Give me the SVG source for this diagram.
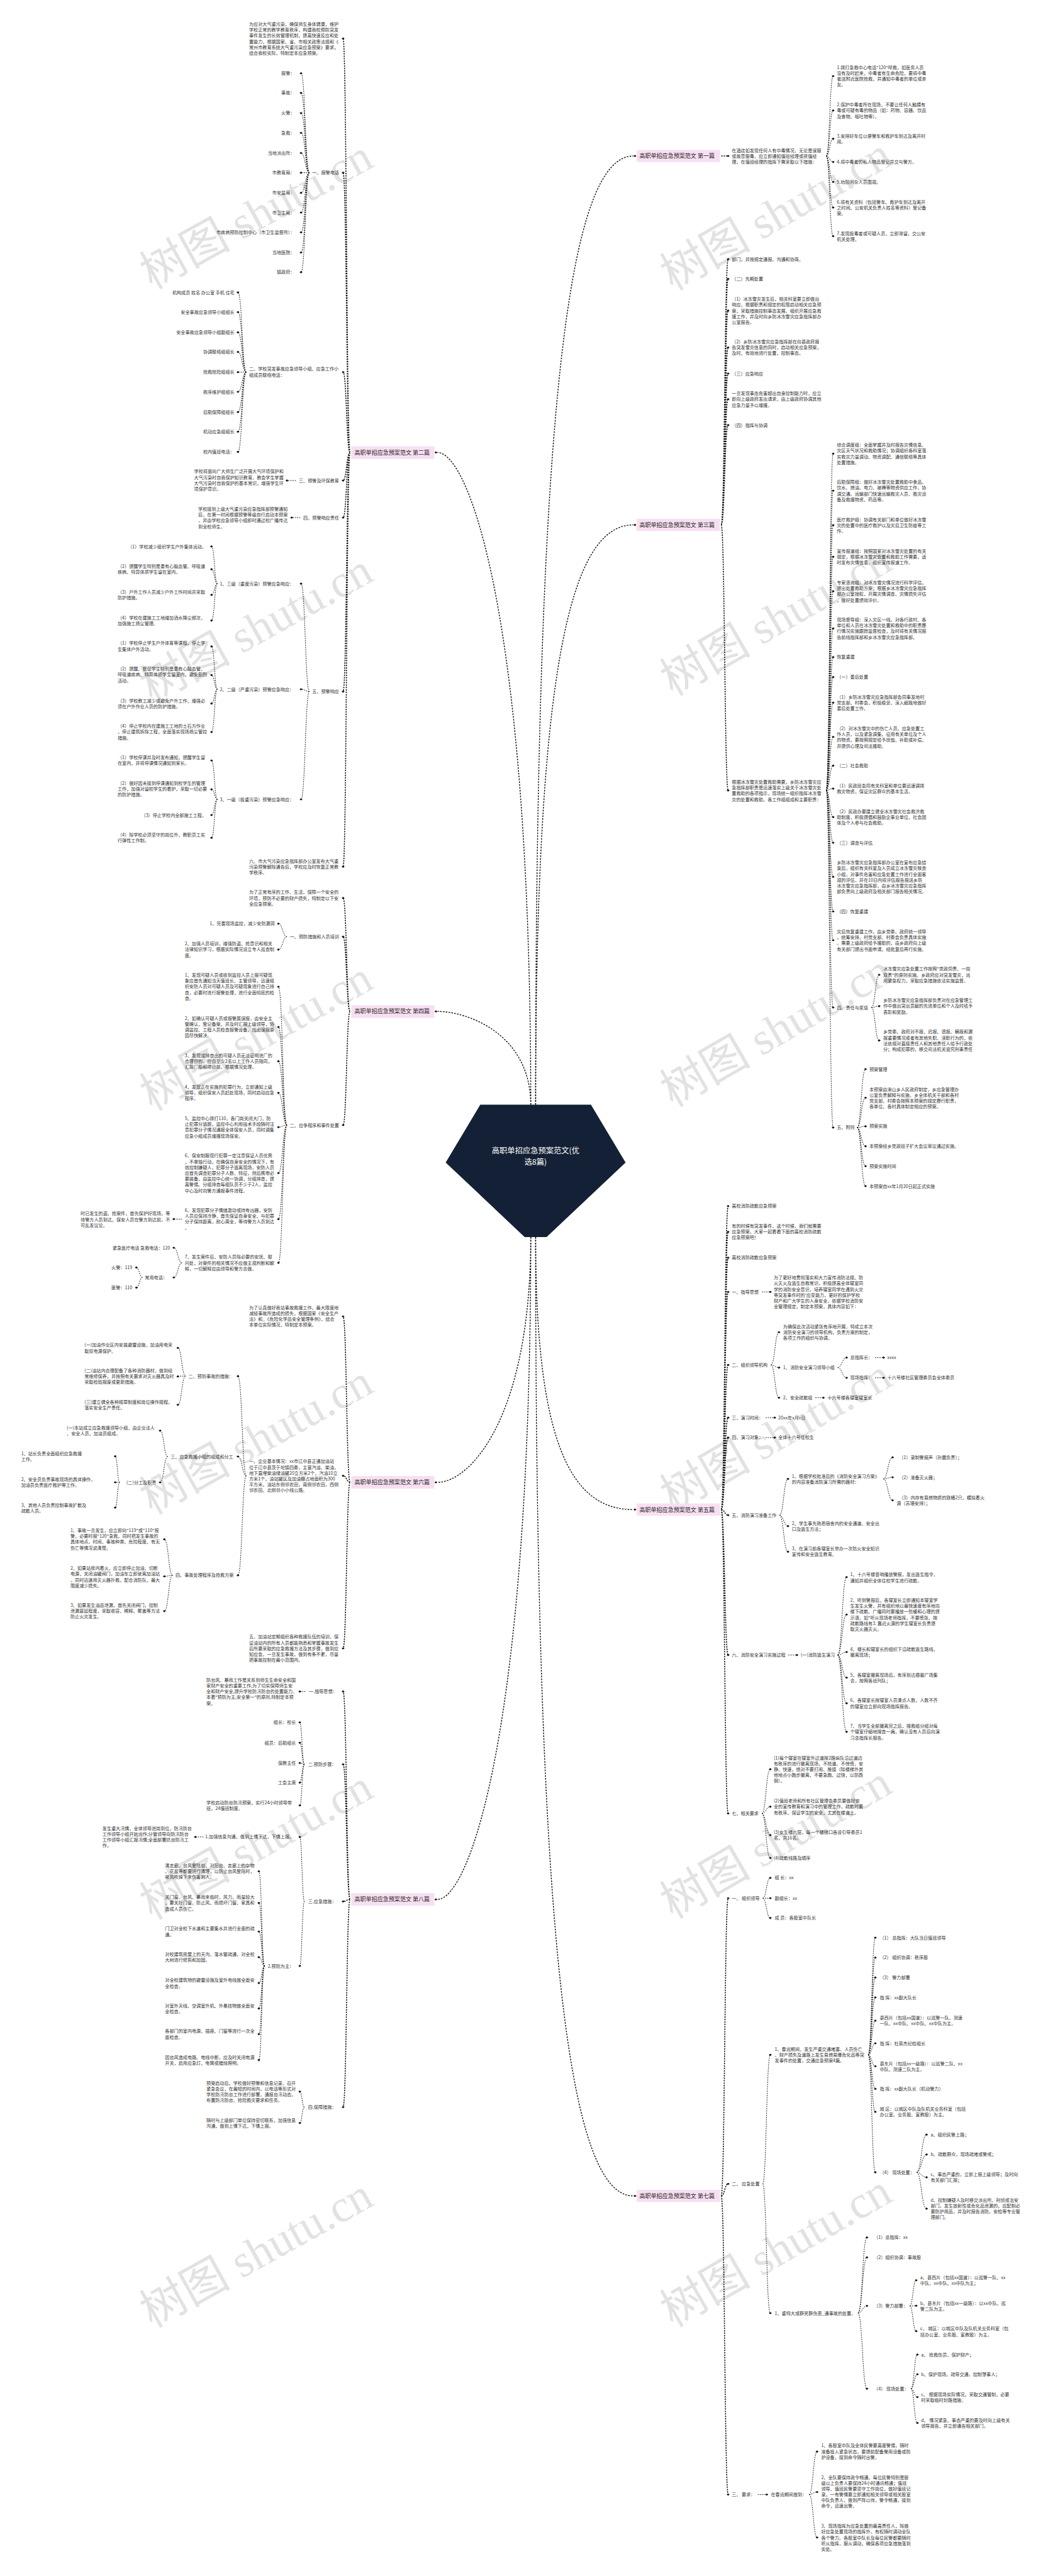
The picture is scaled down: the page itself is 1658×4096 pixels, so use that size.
<svg xmlns="http://www.w3.org/2000/svg" xmlns:xlink="http://www.w3.org/1999/xlink" width="1658" height="4096" viewBox="0 0 1658 4096">
<defs>
<style>
.t{font-family:"Noto Sans CJK SC","Liberation Sans",sans-serif;font-size:11px;fill:#333}
.e{text-anchor:end}
.lb{font-family:"Noto Sans CJK SC","Liberation Sans",sans-serif;font-size:14px;fill:#222}
.bx{fill:#f7dff1}
.c{fill:none;stroke:#111;stroke-width:1.4;stroke-dasharray:3 2.4}
.k{fill:none;stroke:#111;stroke-width:2.4;stroke-dasharray:3.5 2.5}
.m{fill:none;stroke:#111;stroke-width:2.2;stroke-dasharray:4 3}
.wm{font-family:"Liberation Serif","Noto Sans CJK SC",serif;font-size:112px;fill:#d9d9d9;text-anchor:middle;opacity:.75}
</style>
<path id="d" d="M-3.6 0L0-2.8L3.6 0L0 2.8Z" fill="#111"/>
</defs>
<rect width="1658" height="4096" fill="#fff"/>
<g transform="scale(0.647)">
<g id="watermarks">
<text class="wm" transform="translate(648,560) rotate(-29)">树图 shutu.cn</text>
<text class="wm" transform="translate(648,1577) rotate(-29)">树图 shutu.cn</text>
<text class="wm" transform="translate(648,2579) rotate(-29)">树图 shutu.cn</text>
<text class="wm" transform="translate(648,3571) rotate(-29)">树图 shutu.cn</text>
<text class="wm" transform="translate(648,4567) rotate(-29)">树图 shutu.cn</text>
<text class="wm" transform="translate(648,5570) rotate(-29)">树图 shutu.cn</text>
<text class="wm" transform="translate(1925,559) rotate(-30)">树图 shutu.cn</text>
<text class="wm" transform="translate(1925,1555) rotate(-30)">树图 shutu.cn</text>
<text class="wm" transform="translate(1925,2565) rotate(-30)">树图 shutu.cn</text>
<text class="wm" transform="translate(1925,3560) rotate(-30)">树图 shutu.cn</text>
<text class="wm" transform="translate(1925,4560) rotate(-30)">树图 shutu.cn</text>
<text class="wm" transform="translate(1925,5564) rotate(-30)">树图 shutu.cn</text>
</g>
<g id="connectors">
<path class="m" d="M1316,2715C1316,966 1401,383.4 1556,383.4"/>
<path class="m" d="M1316,2715C1316,1646 1401,1290 1556,1290"/>
<path class="m" d="M1316,3040C1316,3542 1401,3710 1556,3710"/>
<path class="m" d="M1316,3040C1316,4808 1401,5396.7 1556,5396.7"/>
<path class="m" d="M1304,2715C1304,1513 1151,1112 1075,1112"/>
<path class="m" d="M1304,2715C1304,2543 1151,2485.7 1075,2485.7"/>
<path class="m" d="M1304,3040C1304,3492 1151,3643 1075,3643"/>
<path class="m" d="M1304,3040C1304,4261 1151,4668 1075,4668"/>
<path class="k" d="M860,1112C851.5,1112 851.5,94.6 843,94.6M860,1112C851.5,1112 851.5,424.5 843,424.5M860,1112C851.5,1112 851.5,914.6 843,914.6M860,1112C851.5,1112 851.5,1181 843,1181M860,1112C851.5,1112 851.5,1272 843,1272M860,1112C851.5,1112 851.5,1699.5 843,1699.5M860,1112C851.5,1112 851.5,2130 843,2130"/>
<path class="c" d="M760,424.5C750,424.5 750,180 739.6,180M760,424.5C750,424.5 750,228.5 739.6,228.5M760,424.5C750,424.5 750,278 739.6,278M760,424.5C750,424.5 750,326.5 739.6,326.5M760,424.5C750,424.5 750,376 739.6,376M760,424.5H739.6M760,424.5C750,424.5 750,474 739.6,474M760,424.5C750,424.5 750,522.5 739.6,522.5M760,424.5C750,424.5 750,571 739.6,571M760,424.5C750,424.5 750,620.5 739.6,620.5M760,424.5C750,424.5 750,669 739.6,669"/>
<path class="c" d="M605,914.6C595,914.6 595,718.6 584.6,718.6M605,914.6C595,914.6 595,767 584.6,767M605,914.6C595,914.6 595,816.6 584.6,816.6M605,914.6C595,914.6 595,865 584.6,865M605,914.6H584.6M605,914.6C595,914.6 595,963 584.6,963M605,914.6C595,914.6 595,1012.6 584.6,1012.6M605,914.6C595,914.6 595,1061 584.6,1061M605,914.6C595,914.6 595,1110.7 584.6,1110.7"/>
<path class="c" d="M727,1181H705M738,1272H716.6"/>
<path class="c" d="M760,1699.5C750,1699.5 750,1434.5 739.6,1434.5M760,1699.5C750,1699.5 750,1694 739.6,1694M760,1699.5C750,1699.5 750,1964.5 739.6,1964.5"/>
<path class="c" d="M534,1434.5C527,1434.5 527,1343 519.7,1343M534,1434.5C527,1434.5 527,1399 519.7,1399M534,1434.5C527,1434.5 527,1462 519.7,1462M534,1434.5C527,1434.5 527,1525 519.7,1525"/>
<path class="c" d="M534,1694C527,1694 527,1588.6 519.7,1588.6M534,1694C527,1694 527,1659 519.7,1659M534,1694C527,1694 527,1729 519.7,1729M534,1694C527,1694 527,1799 519.7,1799"/>
<path class="c" d="M534,1964.5C527,1964.5 527,1869 519.7,1869M534,1964.5C527,1964.5 527,1940 519.7,1940M534,1964.5C527,1964.5 527,2003 519.7,2003M534,1964.5C527,1964.5 527,2059 519.7,2059"/>
<path class="k" d="M860,2485.7C851.5,2485.7 851.5,2207 843,2207M860,2485.7C851.5,2485.7 851.5,2302 843,2302M860,2485.7C851.5,2485.7 851.5,2765 843,2765"/>
<path class="c" d="M705,2302C694.5,2302 694.5,2270 684,2270M705,2302C694.5,2302 694.5,2333.6 684,2333.6"/>
<path class="c" d="M705,2765C694.5,2765 694.5,2425 684,2425M705,2765C694.5,2765 694.5,2524 684,2524M705,2765C694.5,2765 694.5,2608 684,2608M705,2765C694.5,2765 694.5,2686 684,2686M705,2765C694.5,2765 694.5,2770 684,2770M705,2765C694.5,2765 694.5,2883 684,2883M705,2765C694.5,2765 694.5,2996 684,2996M705,2765C694.5,2765 694.5,3103.6 684,3103.6"/>
<path class="c" d="M447,2996H427M447,3103.6C437,3103.6 437,3066.4 427,3066.4M447,3103.6C437,3103.6 437,3139.4 427,3139.4M350,3139.4C342.5,3139.4 342.5,3115 335,3115M350,3139.4C342.5,3139.4 342.5,3164.5 335,3164.5"/>
<path class="k" d="M860,3643C851.5,3643 851.5,3235.4 843,3235.4M860,3643C851.5,3643 851.5,3627 843,3627M860,3643C851.5,3643 851.5,4051 843,4051"/>
<path class="c" d="M605,3627C595,3627 595,3382 584.6,3382M605,3627C595,3627 595,3579.5 584.6,3579.5M605,3627C595,3627 595,3871.5 584.6,3871.5"/>
<path class="c" d="M456,3382C446.5,3382 446.5,3312.5 437,3312.5M456,3382H437M456,3382C446.5,3382 446.5,3452.4 437,3452.4"/>
<path class="c" d="M412,3579.5C402.7,3579.5 402.7,3516 393.4,3516M412,3579.5C402.7,3579.5 402.7,3643 393.4,3643"/>
<path class="c" d="M294,3643C288.5,3643 288.5,3579 283,3579M294,3643H283M294,3643C288.5,3643 288.5,3705 283,3705"/>
<path class="c" d="M424,3871.5C414,3871.5 414,3783 403.8,3783M424,3871.5C414,3871.5 414,3874 403.8,3874M424,3871.5C414,3871.5 414,3959.4 403.8,3959.4"/>
<path class="k" d="M860,4668C851.5,4668 851.5,4157 843,4157M860,4668C851.5,4668 851.5,4336 843,4336M860,4668C851.5,4668 851.5,4673 843,4673M860,4668C851.5,4668 851.5,5178.3 843,5178.3"/>
<path class="c" d="M750,4157H736.7"/>
<path class="c" d="M748,4336C742,4336 742,4233 736.7,4233M748,4336C742,4336 742,4283 736.7,4283M748,4336C742,4336 742,4332.6 736.7,4332.6M748,4336C742,4336 742,4381 736.7,4381M748,4336C742,4336 742,4437 736.7,4437"/>
<path class="c" d="M748,4673C742,4673 742,4514.5 736.7,4514.5M748,4673C742,4673 742,4831.5 736.7,4831.5M500,4514.5H480"/>
<path class="c" d="M650,4831.5C643,4831.5 643,4599 636,4599M650,4831.5C643,4831.5 643,4676.7 636,4676.7M650,4831.5C643,4831.5 643,4747 636,4747M650,4831.5C643,4831.5 643,4810 636,4810M650,4831.5C643,4831.5 643,4873.4 636,4873.4M650,4831.5C643,4831.5 643,4936 636,4936M650,4831.5C643,4831.5 643,4999 636,4999M650,4831.5C643,4831.5 643,5062.7 636,5062.7"/>
<path class="c" d="M748,5178.3C742,5178.3 742,5140.4 736.7,5140.4M748,5178.3C742,5178.3 742,5217.5 736.7,5217.5"/>
<path class="k" d="M1772,383.4H1789"/>
<path class="c" d="M2030,383.4C2038.5,383.4 2038.5,187 2047,187M2030,383.4C2038.5,383.4 2038.5,271.5 2047,271.5M2030,383.4C2038.5,383.4 2038.5,341 2047,341M2030,383.4C2038.5,383.4 2038.5,398 2047,398M2030,383.4C2038.5,383.4 2038.5,447 2047,447M2030,383.4C2038.5,383.4 2038.5,510 2047,510M2030,383.4C2038.5,383.4 2038.5,580.4 2047,580.4"/>
<path class="k" d="M1772,1290C1780.5,1290 1780.5,636.7 1789,636.7M1772,1290C1780.5,1290 1780.5,685.6 1789,685.6M1772,1290C1780.5,1290 1780.5,763.4 1789,763.4M1772,1290C1780.5,1290 1780.5,854 1789,854M1772,1290C1780.5,1290 1780.5,918 1789,918M1772,1290C1780.5,1290 1780.5,981 1789,981M1772,1290C1780.5,1290 1780.5,1044.7 1789,1044.7M1772,1290C1780.5,1290 1780.5,1942.6 1789,1942.6"/>
<path class="c" d="M2030,1942.6C2038.5,1942.6 2038.5,1115 2047,1115M2030,1942.6C2038.5,1942.6 2038.5,1206 2047,1206M2030,1942.6C2038.5,1942.6 2038.5,1290.7 2047,1290.7M2030,1942.6C2038.5,1942.6 2038.5,1368.4 2047,1368.4M2030,1942.6C2038.5,1942.6 2038.5,1453 2047,1453M2030,1942.6C2038.5,1942.6 2038.5,1544.6 2047,1544.6M2030,1942.6C2038.5,1942.6 2038.5,1615 2047,1615M2030,1942.6C2038.5,1942.6 2038.5,1664 2047,1664M2030,1942.6C2038.5,1942.6 2038.5,1727 2047,1727M2030,1942.6C2038.5,1942.6 2038.5,1811 2047,1811M2030,1942.6C2038.5,1942.6 2038.5,1881.6 2047,1881.6M2030,1942.6C2038.5,1942.6 2038.5,1938 2047,1938M2030,1942.6C2038.5,1942.6 2038.5,2008 2047,2008M2030,1942.6C2038.5,1942.6 2038.5,2071 2047,2071M2030,1942.6C2038.5,1942.6 2038.5,2155 2047,2155M2030,1942.6C2038.5,1942.6 2038.5,2240 2047,2240M2030,1942.6C2038.5,1942.6 2038.5,2310.6 2047,2310.6M2030,1942.6C2038.5,1942.6 2038.5,2476 2047,2476M2030,1942.6C2038.5,1942.6 2038.5,2771 2047,2771"/>
<path class="c" d="M2141,2476C2150.5,2476 2150.5,2395.6 2160,2395.6M2141,2476C2150.5,2476 2150.5,2472.7 2160,2472.7M2141,2476C2150.5,2476 2150.5,2557 2160,2557"/>
<path class="c" d="M2106,2771C2116,2771 2116,2627.5 2126.6,2627.5M2106,2771C2116,2771 2116,2697.8 2126.6,2697.8M2106,2771C2116,2771 2116,2768 2126.6,2768M2106,2771C2116,2771 2116,2817 2126.6,2817M2106,2771C2116,2771 2116,2866 2126.6,2866M2106,2771C2116,2771 2116,2915 2126.6,2915"/>
<path class="k" d="M1772,3710C1780.5,3710 1780.5,2964 1789,2964M1772,3710C1780.5,3710 1780.5,3027.5 1789,3027.5M1772,3710C1780.5,3710 1780.5,3091 1789,3091M1772,3710C1780.5,3710 1780.5,3175 1789,3175M1772,3710C1780.5,3710 1780.5,3354.5 1789,3354.5M1772,3710C1780.5,3710 1780.5,3484 1789,3484M1772,3710C1780.5,3710 1780.5,3533 1789,3533M1772,3710C1780.5,3710 1780.5,3723.7 1789,3723.7M1772,3710C1780.5,3710 1780.5,4067.4 1789,4067.4M1772,3710C1780.5,3710 1780.5,4456.8 1789,4456.8"/>
<path class="c" d="M1872,3175H1892.6M2150,3336.4H2171M2150,3386H2171M2003,3435H2023M1881,3484H1903.5M1881,3533H1903.5M1937,4067.4H1958"/>
<path class="c" d="M1894,3354.5C1904,3354.5 1904,3274 1914,3274M1894,3354.5C1904,3354.5 1904,3361 1914,3361M1894,3354.5C1904,3354.5 1904,3435 1914,3435M2058,3361C2069,3361 2069,3336.4 2080,3336.4M2058,3361C2069,3361 2069,3386 2080,3386"/>
<path class="c" d="M1915,3723.7C1925.5,3723.7 1925.5,3634.6 1936,3634.6M1915,3723.7C1925.5,3723.7 1925.5,3750.5 1936,3750.5M1915,3723.7C1925.5,3723.7 1925.5,3813.5 1936,3813.5M2170,3634.6C2181.5,3634.6 2181.5,3581.7 2193,3581.7M2170,3634.6C2181.5,3634.6 2181.5,3630.6 2193,3630.6M2170,3634.6C2181.5,3634.6 2181.5,3687 2193,3687"/>
<path class="c" d="M2058,4067.4C2069,4067.4 2069,3876 2080,3876M2058,4067.4C2069,4067.4 2069,3968 2080,3968M2058,4067.4C2069,4067.4 2069,4060 2080,4060M2058,4067.4C2069,4067.4 2069,4123 2080,4123M2058,4067.4C2069,4067.4 2069,4186 2080,4186M2058,4067.4C2069,4067.4 2069,4256 2080,4256"/>
<path class="c" d="M1872,4456.8C1882,4456.8 1882,4348 1892.6,4348M1872,4456.8C1882,4456.8 1882,4440 1892.6,4440M1872,4456.8C1882,4456.8 1882,4510 1892.6,4510M1872,4456.8C1882,4456.8 1882,4566 1892.6,4566"/>
<path class="k" d="M1772,5396.7C1780.5,5396.7 1780.5,4665 1789,4665M1772,5396.7C1780.5,5396.7 1780.5,5367 1789,5367M1772,5396.7C1780.5,5396.7 1780.5,6130.6 1789,6130.6"/>
<path class="c" d="M1874,4665C1883,4665 1883,4615 1892.6,4615M1874,4665H1892.6M1874,4665C1883,4665 1883,4713.5 1892.6,4713.5M1874,5367C1883,5367 1883,5050 1892.6,5050M1874,5367C1883,5367 1883,5684.6 1892.6,5684.6"/>
<path class="c" d="M2133,5050C2142,5050 2142,4762 2150.6,4762M2133,5050C2142,5050 2142,4811 2150.6,4811M2133,5050C2142,5050 2142,4860 2150.6,4860M2133,5050C2142,5050 2142,4909 2150.6,4909M2133,5050C2142,5050 2142,4966 2150.6,4966M2133,5050C2142,5050 2142,5021.6 2150.6,5021.6M2133,5050C2142,5050 2142,5078 2150.6,5078M2133,5050C2142,5050 2142,5133.5 2150.6,5133.5M2133,5050C2142,5050 2142,5190 2150.6,5190M2133,5050C2142,5050 2142,5338.6 2150.6,5338.6"/>
<path class="c" d="M2252,5338.6C2264,5338.6 2264,5246 2276.5,5246M2252,5338.6C2264,5338.6 2264,5295 2276.5,5295M2252,5338.6C2264,5338.6 2264,5351 2276.5,5351M2252,5338.6C2264,5338.6 2264,5428 2276.5,5428"/>
<path class="c" d="M2108,5684.6C2119,5684.6 2119,5498.7 2130,5498.7M2108,5684.6C2119,5684.6 2119,5547.8 2130,5547.8M2108,5684.6C2119,5684.6 2119,5667 2130,5667M2108,5684.6C2119,5684.6 2119,5870.6 2130,5870.6"/>
<path class="c" d="M2235,5667C2243,5667 2243,5604 2251,5604M2235,5667H2251M2235,5667C2243,5667 2243,5729 2251,5729M2238,5870.6C2246,5870.6 2246,5786.6 2254,5786.6M2238,5870.6C2246,5870.6 2246,5835 2254,5835M2238,5870.6C2246,5870.6 2246,5891 2254,5891M2238,5870.6C2246,5870.6 2246,5954.6 2254,5954.6"/>
<path class="c" d="M1862,6130.6H1884M1988,6130.6C1998,6130.6 1998,6025 2007.5,6025M1988,6130.6C1998,6130.6 1998,6124.4 2007.5,6124.4M1988,6130.6C1998,6130.6 1998,6236 2007.5,6236"/>
</g>
<g id="root">
<polygon points="1180,2715 1452,2715 1537,2857 1343,3040 1289,3040 1095,2857" fill="#142035"/>
<text x="1316" y="2835" font-family="Noto Sans CJK SC,Liberation Sans,sans-serif" font-size="19" fill="#fff" text-anchor="middle">高职单招应急预案范文(优</text>
<text x="1316" y="2862" font-family="Noto Sans CJK SC,Liberation Sans,sans-serif" font-size="19" fill="#fff" text-anchor="middle">选8篇)</text>
</g>
<g id="b2"><rect class="bx" x="863" y="1097" width="204" height="31"/><text class="lb" x="871" y="1117">高职单招应急预案范文 第二篇</text><use href="#d" x="1071" y="1112"/></g>
<g id="b4"><rect class="bx" x="863" y="2470.5" width="204" height="31"/><text class="lb" x="871" y="2490.7">高职单招应急预案范文 第四篇</text><use href="#d" x="1071" y="2485.7"/></g>
<g id="b6"><rect class="bx" x="863" y="3627.5" width="204" height="31"/><text class="lb" x="871" y="3648">高职单招应急预案范文 第六篇</text><use href="#d" x="1071" y="3643"/></g>
<g id="b8"><rect class="bx" x="863" y="4652.5" width="204" height="31"/><text class="lb" x="871" y="4673">高职单招应急预案范文 第八篇</text><use href="#d" x="1071" y="4668"/></g>
<g id="b1"><rect class="bx" x="1564" y="368.4" width="205" height="30"/><text class="lb" x="1571" y="388.4">高职单招应急预案范文 第一篇</text><use href="#d" x="1560" y="383.4"/></g>
<g id="b3"><rect class="bx" x="1564" y="1275" width="205" height="30"/><text class="lb" x="1571" y="1295">高职单招应急预案范文 第三篇</text><use href="#d" x="1560" y="1290"/></g>
<g id="b5"><rect class="bx" x="1564" y="3695" width="205" height="30"/><text class="lb" x="1571" y="3715">高职单招应急预案范文 第五篇</text><use href="#d" x="1560" y="3710"/></g>
<g id="b7"><rect class="bx" x="1564" y="5381.7" width="205" height="30"/><text class="lb" x="1571" y="5401.7">高职单招应急预案范文 第七篇</text><use href="#d" x="1560" y="5396.7"/></g>

<g id="p2">
<text class="t" x="612" y="63.5">为应对大气重污染，确保师生身体健康，维护<tspan x="612" dy="14.2">学校正常的教学教育秩序，构建我校预防突发</tspan><tspan x="612" dy="14.2">事件发生的长效管理机制，提高快速反应和处</tspan><tspan x="612" dy="14.2">置能力，根据国家、省、市相关政策法规和《</tspan><tspan x="612" dy="14.2">常州市教育系统大气重污染应急预案》要求，</tspan><tspan x="612" dy="14.2">结合我校实际，特制定本应急预案。</tspan></text><use href="#d" x="843" y="94.6"/>
<text class="t e" x="833" y="428.5">一、报警电话</text><use href="#d" x="843" y="424.5"/>
<text class="t e" x="724" y="184">报警：</text><use href="#d" x="739.6" y="180"/>
<text class="t e" x="724" y="232.5">事故：</text><use href="#d" x="739.6" y="228.5"/>
<text class="t e" x="724" y="282">火警：</text><use href="#d" x="739.6" y="278"/>
<text class="t e" x="724" y="330.5">急救：</text><use href="#d" x="739.6" y="326.5"/>
<text class="t e" x="724" y="380">当地派出所：</text><use href="#d" x="739.6" y="376"/>
<text class="t e" x="724" y="428.5">市教育局：</text><use href="#d" x="739.6" y="424.5"/>
<text class="t e" x="724" y="478">市安监局：</text><use href="#d" x="739.6" y="474"/>
<text class="t e" x="724" y="526.5">市卫生局：</text><use href="#d" x="739.6" y="522.5"/>
<text class="t e" x="724" y="575">市疾病预防控制中心（市卫生监督所）：</text><use href="#d" x="739.6" y="571"/>
<text class="t e" x="724" y="624.5">当地医院：</text><use href="#d" x="739.6" y="620.5"/>
<text class="t e" x="724" y="673">镇政府：</text><use href="#d" x="739.6" y="669"/>
<text class="t" x="612" y="911">二、学校突发事故应急领导小组、应急工作小<tspan x="612" dy="14.5">组成员联络电话：</tspan></text><use href="#d" x="843" y="914.6"/>
<text class="t e" x="576" y="722.6">机构成员 姓名 办公室 手机 住宅</text><use href="#d" x="584.6" y="718.6"/>
<text class="t e" x="576" y="771">安全事故应急领导小组组长</text><use href="#d" x="584.6" y="767"/>
<text class="t e" x="576" y="820.6">安全事故应急领导小组副组长</text><use href="#d" x="584.6" y="816.6"/>
<text class="t e" x="576" y="869">协调联络组组长</text><use href="#d" x="584.6" y="865"/>
<text class="t e" x="576" y="918.6">抢救抢险组组长</text><use href="#d" x="584.6" y="914.6"/>
<text class="t e" x="576" y="967">秩序维护组组长</text><use href="#d" x="584.6" y="963"/>
<text class="t e" x="576" y="1016.6">后勤保障组组长</text><use href="#d" x="584.6" y="1012.6"/>
<text class="t e" x="576" y="1065">机动应急组组长</text><use href="#d" x="584.6" y="1061"/>
<text class="t e" x="576" y="1114.7">校内值班电话：</text><use href="#d" x="584.6" y="1110.7"/>
<text class="t e" x="833" y="1185">三、预警及环保教育</text><use href="#d" x="843" y="1181"/>
<text class="t" x="477" y="1163">学校将面向广大师生广泛开展大气环境保护和<tspan x="477" dy="14.2">大气污染时自我保护知识教育。教会学生掌握</tspan><tspan x="477" dy="14.2">大气污染时自我保护的基本常识，增强学生环</tspan><tspan x="477" dy="14.2">境保护意识。</tspan></text><use href="#d" x="705" y="1181"/>
<text class="t e" x="833" y="1276">四、预警响应责任</text><use href="#d" x="843" y="1272"/>
<text class="t" x="487" y="1255">学校接到上级大气重污染应急指挥部预警通知<tspan x="487" dy="14.2">后，在第一时间根据预警等级自行启动本预案</tspan><tspan x="487" dy="14.2">，并由学校应急领导小组即时通过校广播传达</tspan><tspan x="487" dy="14.2">到全校师生。</tspan></text><use href="#d" x="716.6" y="1272"/>
<text class="t e" x="833" y="1703.5">五、预警响应</text><use href="#d" x="843" y="1699.5"/>
<text class="t e" x="722" y="1438.5">1、三级（重度污染）预警应急响应：</text><use href="#d" x="739.6" y="1434.5"/>
<text class="t e" x="507" y="1347">（1）学校减少组织学生户外集体运动。</text><use href="#d" x="519.7" y="1343"/>
<text class="t" x="289" y="1396">（2）提醒学生特别是患有心脑血管、呼吸道<tspan x="289" dy="14.2">疾病、特异体质学生留在室内。</tspan></text><use href="#d" x="519.7" y="1399"/>
<text class="t" x="289" y="1458.8">（3）户外工作人员减少户外工作时间并采取<tspan x="289" dy="14.2">防护措施。</tspan></text><use href="#d" x="519.7" y="1462"/>
<text class="t" x="289" y="1522">（4）学校在建施工工地增加洒水降尘频次，<tspan x="289" dy="14.2">加强施工扬尘管理。</tspan></text><use href="#d" x="519.7" y="1525"/>
<text class="t e" x="722" y="1698">2、二级（严重污染）预警应急响应：</text><use href="#d" x="739.6" y="1694"/>
<text class="t" x="289" y="1585">（1）学校停止学生户外体育等课程，停止学<tspan x="289" dy="14.2">生集体户外活动。</tspan></text><use href="#d" x="519.7" y="1588.6"/>
<text class="t" x="289" y="1648">（2）提醒、督促学生特别是患有心脑血管、<tspan x="289" dy="14.2">呼吸道疾病、特异体质学生留室内，避免剧烈</tspan><tspan x="289" dy="14.2">活动。</tspan></text><use href="#d" x="519.7" y="1659"/>
<text class="t" x="289" y="1726">（3）学校教工减少或避免户外工作，增强必<tspan x="289" dy="14.2">须在户外作业人员的防护措施。</tspan></text><use href="#d" x="519.7" y="1729"/>
<text class="t" x="289" y="1788.7">（4）停止学校内在建施工工地的土石方作业<tspan x="289" dy="14.2">，停止建筑拆除工程，全面落实现场扬尘管控</tspan><tspan x="289" dy="14.2">措施。</tspan></text><use href="#d" x="519.7" y="1799"/>
<text class="t e" x="722" y="1968.5">3、一级（极重污染）预警应急响应：</text><use href="#d" x="739.6" y="1964.5"/>
<text class="t" x="289" y="1866">（1）学校停课并及时发布通知，提醒学生留<tspan x="289" dy="14.2">在室内，并将停课情况通知到家长。</tspan></text><use href="#d" x="519.7" y="1869"/>
<text class="t" x="289" y="1929">（2）做好因未接到停课通知到校学生的管理<tspan x="289" dy="14.2">工作，加强对留校学生的看护，采取一切必要</tspan><tspan x="289" dy="14.2">的防护措施。</tspan></text><use href="#d" x="519.7" y="1940"/>
<text class="t e" x="507" y="2007">（3）停止学校内全部施工工程。</text><use href="#d" x="519.7" y="2003"/>
<text class="t" x="289" y="2056">（4）除学校必须坚守的岗位外，教职员工实<tspan x="289" dy="14.2">行弹性工作制。</tspan></text><use href="#d" x="519.7" y="2059"/>
<text class="t" x="612" y="2120">六、市大气污染应急指挥部办公室发布大气重<tspan x="612" dy="14.2">污染预警解除通告后，学校应及时恢复正常教</tspan><tspan x="612" dy="14.2">学秩序。</tspan></text><use href="#d" x="843" y="2130"/>
</g>

<g id="p4">
<text class="t" x="612" y="2197">为了正常有序的工作、生活，保障一个安全的<tspan x="612" dy="14.2">环境，预防不必要的财产损失，特制定以下安</tspan><tspan x="612" dy="14.2">全应急预案。</tspan></text><use href="#d" x="843" y="2207"/>
<text class="t e" x="833" y="2306">一、预防措施和人员培训</text><use href="#d" x="843" y="2302"/>
<text class="t e" x="675" y="2274">1、完善现场监控，减少安防漏洞</text><use href="#d" x="684" y="2270"/>
<text class="t" x="454" y="2323.4">2、加强人员培训，增强防盗、抢意识和相关<tspan x="454" dy="14.2">法律知识学习，根据实际情况设立专人巡查制</tspan><tspan x="454" dy="14.2">度。</tspan></text><use href="#d" x="684" y="2333.6"/>
<text class="t e" x="833" y="2769">二、应争程序和事件处置</text><use href="#d" x="843" y="2765"/>
<text class="t" x="454" y="2400.5">1、发现可疑人员或收到监控人员上报可疑现<tspan x="454" dy="14.2">象应首先通知当天值班长、主管领导，迅速组</tspan><tspan x="454" dy="14.2">织安防人员对可疑人员及可疑现象进行自己排</tspan><tspan x="454" dy="14.2">查，必要时进行报警处理，进行全面彻底的检</tspan><tspan x="454" dy="14.2">查。</tspan></text><use href="#d" x="684" y="2425"/>
<text class="t" x="454" y="2506.6">2、如确认可疑人员或报警属误报，由安全主<tspan x="454" dy="14.2">管确认，登记备案，并及时汇报上级领导，协</tspan><tspan x="454" dy="14.2">调监控、工程人员检查报警设备，找出误报原</tspan><tspan x="454" dy="14.2">因尽快解决。</tspan></text><use href="#d" x="684" y="2524"/>
<text class="t" x="454" y="2598">3、发现或排查出的可疑人员无法证明进厂的<tspan x="454" dy="14.2">合理目的，应由至少2名以上工作人员陪同，</tspan><tspan x="454" dy="14.2">汇报厂部和项目部，根据情况处理。</tspan></text><use href="#d" x="684" y="2608"/>
<text class="t" x="454" y="2675.6">4、发现正在实施的犯罪行为，立即通知上级<tspan x="454" dy="14.2">领导，组织保安人员赶赴现场，同时启动应急</tspan><tspan x="454" dy="14.2">程序。</tspan></text><use href="#d" x="684" y="2686"/>
<text class="t" x="454" y="2752.7">5、监控中心拨打110，各门岗关闭大门，防<tspan x="454" dy="14.2">止犯罪分逃脱，监控中心利用技术手段随时注</tspan><tspan x="454" dy="14.2">意犯罪分子情况通报全体保安人员，同时调集</tspan><tspan x="454" dy="14.2">应急小组成员增援现场保安。</tspan></text><use href="#d" x="684" y="2770"/>
<text class="t" x="454" y="2844.6">6、保安制服现行犯罪一定注意保证人员优势<tspan x="454" dy="14.2">，不单独行动，在确保自身安全的情况下，有</tspan><tspan x="454" dy="14.2">效控制嫌疑人，犯罪分子逃离现场，安防人员</tspan><tspan x="454" dy="14.2">应首先调查犯罪分子人数、特征，然后携带必</tspan><tspan x="454" dy="14.2">要装备，由监控中心统一协调，分组排查，提</tspan><tspan x="454" dy="14.2">高警惕。分组排查每组队员不少于2人，监控</tspan><tspan x="454" dy="14.2">中心及时向警方通报事件进程。</tspan></text><use href="#d" x="684" y="2883"/>
<text class="t" x="454" y="2978.5">6、发现犯罪分子情绪激动或持有凶器，安防<tspan x="454" dy="14.2">人员应保持冷静，首先保证自身安全，与犯罪</tspan><tspan x="454" dy="14.2">分子保持距离，耐心周全，等待警方人员到达</tspan><tspan x="454" dy="14.2">。</tspan></text><use href="#d" x="684" y="2996"/>
<text class="t" x="198" y="2986.6">时已发生的盗、抢案件，首先保护好现场，等<tspan x="198" dy="14.2">待警方人员到达，保安人员在警方到达前，不</tspan><tspan x="198" dy="14.2">可乱发议论。</tspan></text><use href="#d" x="427" y="2996"/>
<text class="t" x="454" y="3093.5">7、发生案件后，安防人员除必要的安抚、慰<tspan x="454" dy="14.2">问处，对案件的相关情况不应做主观判断和解</tspan><tspan x="454" dy="14.2">释，一切解释应由领导和警方去做。</tspan></text><use href="#d" x="684" y="3103.6"/>
<text class="t e" x="418" y="3070.4">紧急医疗电话 急救电话：120</text><use href="#d" x="427" y="3066.4"/>
<text class="t e" x="411" y="3143.4">常用电话：</text><use href="#d" x="427" y="3139.4"/>
<text class="t e" x="325" y="3119">火警：119</text><use href="#d" x="335" y="3115"/>
<text class="t e" x="325" y="3168.5">匪警：110</text><use href="#d" x="335" y="3164.5"/>
</g>

<g id="p6">
<text class="t" x="612" y="3217.8">为了认真做好我站事故救援工作，最大限度地<tspan x="612" dy="14.2">减轻事故所造成的损失，根据国家《安全生产</tspan><tspan x="612" dy="14.2">法》和_《危险化学品安全管理条例》，结合</tspan><tspan x="612" dy="14.2">本单位实际情况，特制定本预案。</tspan></text><use href="#d" x="843" y="3235.4"/>
<text class="t" x="612" y="3595.7">一、企业基本情况：xx市辽中县正通加油站<tspan x="612" dy="14.2">位于辽中县茨于坨镇四委，主营汽油、柴油，</tspan><tspan x="612" dy="14.2">地下直埋柴油储油罐20立方米2个，汽油10立</tspan><tspan x="612" dy="14.2">方米1个，油站罐区及加油棚占地面积为300</tspan><tspan x="612" dy="14.2">平方米，油站东侧邻农田，南侧邻农田，西侧</tspan><tspan x="612" dy="14.2">邻农田、北侧邻小小线公路。</tspan></text><use href="#d" x="843" y="3627"/>
<text class="t e" x="573" y="3386">二、预防事故的措施：</text><use href="#d" x="584.6" y="3382"/>
<text class="t" x="207.5" y="3309.7">(一)加油作业区内安装避雷设施，加油用电采<tspan x="207.5" dy="14.2">取双电源保护。</tspan></text><use href="#d" x="437" y="3312.5"/>
<text class="t" x="207.5" y="3372.6">(二)油站内合理配备了各种消防器材，做到经<tspan x="207.5" dy="14.2">常维修保养，并按照有关要求对灭火器具及时</tspan><tspan x="207.5" dy="14.2">采取检验报废或更新措施。</tspan></text><use href="#d" x="437" y="3382.8"/>
<text class="t" x="207.5" y="3449.7">(三)建立健全各种规章制度和岗位操作规程，<tspan x="207.5" dy="14.2">落实安全生产责任。</tspan></text><use href="#d" x="437" y="3452.4"/>
<text class="t e" x="573" y="3583.5">三、应急救援小组的组成和分工</text><use href="#d" x="584.6" y="3579.5"/>
<text class="t" x="164" y="3513">(一)本站成立应急救援领导小组，由企业法人<tspan x="164" dy="14.2">、安全人员、加油员组成。</tspan></text><use href="#d" x="393.4" y="3516"/>
<text class="t e" x="384" y="3647">(二)分工及职责</text><use href="#d" x="393.4" y="3643"/>
<text class="t" x="52" y="3576">1、站长负责全面组织应急救援<tspan x="52" dy="14.2">工作。</tspan></text><use href="#d" x="283" y="3579"/>
<text class="t" x="52" y="3640">2、安全员负责事故现场的具体操作，<tspan x="52" dy="14.2">加油员负责医疗救护等工作。</tspan></text><use href="#d" x="283" y="3643"/>
<text class="t" x="52" y="3702.5">3、其他人员负责控制事故扩散及<tspan x="52" dy="14.2">疏散人员。</tspan></text><use href="#d" x="283" y="3705"/>
<text class="t e" x="574" y="3875.5">四、事故处理程序及抢救方案</text><use href="#d" x="584.6" y="3871.5"/>
<text class="t" x="173" y="3765">1、事故一旦发生，应立即向"119"或"110"报<tspan x="173" dy="14.2">警，必要时报"120"急救，同时把发生事故的</tspan><tspan x="173" dy="14.2">具体地点、时间、事故种类、危险程度、有无</tspan><tspan x="173" dy="14.2">伤亡等情况说清楚。</tspan></text><use href="#d" x="403.8" y="3783"/>
<text class="t" x="173" y="3858">2、如果站房内着火，应立即停止加油，切断<tspan x="173" dy="14.2">电源，关闭油罐阀门，加油车立即驶离加油站</tspan><tspan x="173" dy="14.2">，同时迅速用灭火器扑救，配合消防队，最大</tspan><tspan x="173" dy="14.2">限度减少损失。</tspan></text><use href="#d" x="403.8" y="3874"/>
<text class="t" x="173" y="3949">3、如果发生油品泄漏，首先关闭阀门，控制<tspan x="173" dy="14.2">泄漏蔓延程度，采取收容、稀释、覆盖等方法</tspan><tspan x="173" dy="14.2">防止火灾发生。</tspan></text><use href="#d" x="403.8" y="3959.4"/>
<text class="t" x="612" y="4027">五、加油站定期组织各种救援队伍的培训，保<tspan x="612" dy="14.2">证油站内的所有人员都能熟悉和掌握事故发生</tspan><tspan x="612" dy="14.2">后所要采取的应急救援方法及其步骤，做到应</tspan><tspan x="612" dy="14.2">知应会，一旦发生事故，做到有条不紊，尽量</tspan><tspan x="612" dy="14.2">把事故控制在最小范围内。</tspan></text><use href="#d" x="843" y="4051"/>
</g>

<g id="p8">
<text class="t e" x="828" y="4161">一.指导思想：</text><use href="#d" x="843" y="4157"/>
<text class="t" x="507" y="4132.6">防台风、暴雨工作是关系到师生生命安全和国<tspan x="507" dy="14.2">家财产安全的重要工作,为了切实保障师生安</tspan><tspan x="507" dy="14.2">全和财产安全,提升学校防汛防台的处置能力,</tspan><tspan x="507" dy="14.2">本着"预防为主,安全第一"的原则,特制定本预</tspan><tspan x="507" dy="14.2">案。</tspan></text><use href="#d" x="736.7" y="4157"/>
<text class="t e" x="826" y="4340">二.预防步骤：</text><use href="#d" x="843" y="4336"/>
<text class="t e" x="727" y="4237">组长：校长</text><use href="#d" x="736.7" y="4233"/>
<text class="t e" x="727" y="4287">组员：后勤组长</text><use href="#d" x="736.7" y="4283"/>
<text class="t e" x="727" y="4336.6">保教主任</text><use href="#d" x="736.7" y="4332.6"/>
<text class="t e" x="727" y="4385">工会主席</text><use href="#d" x="736.7" y="4381"/>
<text class="t" x="507" y="4434.6">学校启动防台防汛预案，实行24小时领导带<tspan x="507" dy="14.2">班，24值班制度。</tspan></text><use href="#d" x="736.7" y="4437"/>
<text class="t e" x="826" y="4677">三.应急措施：</text><use href="#d" x="843" y="4673"/>
<text class="t e" x="722" y="4518.5">1.加强信息沟通，做到上情下达，下情上报。</text><use href="#d" x="736.7" y="4514.5"/>
<text class="t" x="251.6" y="4497.5">发生重大汛情，全体领导进岗到位，防汛防台<tspan x="251.6" dy="14.2">工作领导小组开始运作;分管领导向防汛防台</tspan><tspan x="251.6" dy="14.2">工作领导小组汇报汛情;全面部署抗台防汛工</tspan><tspan x="251.6" dy="14.2">作。</tspan></text><use href="#d" x="480" y="4514.5"/>
<text class="t e" x="722" y="4835.5">2.预防为主：</text><use href="#d" x="736.7" y="4831.5"/>
<text class="t" x="405.5" y="4588.8">清走廊。台风登陆前，对阳台、走廊上的杂物<tspan x="405.5" dy="14.2">、花盆等都要进行清理，以防止台风登陆时，</tspan><tspan x="405.5" dy="14.2">被风吹掉下来伤害到人。</tspan></text><use href="#d" x="636" y="4599"/>
<text class="t" x="405.5" y="4666.5">关门窗。台风、暴雨来临时，风力、雨量较大<tspan x="405.5" dy="14.2">，要关好门窗，防止风、雨损坏门窗、家具和</tspan><tspan x="405.5" dy="14.2">造成人员伤亡。</tspan></text><use href="#d" x="636" y="4676.7"/>
<text class="t" x="405.5" y="4744">门卫对全校下水道和主要集水井进行全面的疏<tspan x="405.5" dy="14.2">通。</tspan></text><use href="#d" x="636" y="4747"/>
<text class="t" x="405.5" y="4807">对校建筑房屋上的天沟、落水管疏通，对全校<tspan x="405.5" dy="14.2">大树进行修剪和加固。</tspan></text><use href="#d" x="636" y="4810"/>
<text class="t" x="405.5" y="4870.7">对全校建筑物的避雷设施及室外电线做全面安<tspan x="405.5" dy="14.2">全检查。</tspan></text><use href="#d" x="636" y="4873.4"/>
<text class="t" x="405.5" y="4933.5">对室外天线、空调室外机、外悬挂物做全面安<tspan x="405.5" dy="14.2">全检查。</tspan></text><use href="#d" x="636" y="4936"/>
<text class="t" x="405.5" y="4996">各部门的室内电源、插座、门窗等进行一次全<tspan x="405.5" dy="14.2">面检查。</tspan></text><use href="#d" x="636" y="4999"/>
<text class="t" x="405.5" y="5060">因台风造成电路、电线中断，应及时关闭电源<tspan x="405.5" dy="14.2">开关，启用应急灯、电筒或蜡烛照明。</tspan></text><use href="#d" x="636" y="5062.7"/>
<text class="t e" x="826" y="5182.3">四.保障措施：</text><use href="#d" x="843" y="5178.3"/>
<text class="t" x="507" y="5123">预案启动后，学校做好预警和信息记录。召开<tspan x="507" dy="14.2">紧急会议，在最短的时间内，以电话等形式对</tspan><tspan x="507" dy="14.2">学校防汛防台工作进行部署，通报台汛动态，</tspan><tspan x="507" dy="14.2">布置防汛防台、抢险救灾要求和任务。</tspan></text><use href="#d" x="736.7" y="5140.4"/>
<text class="t" x="507" y="5214.7">随时与上级部门单位保持密切联系，加强信息<tspan x="507" dy="14.2">沟通，做到上情下达，下情上报。</tspan></text><use href="#d" x="736.7" y="5217.5"/>
</g>

<g id="p1">
<text class="t" x="1798" y="373.3">在酒店如发现任何人有中毒情况，无论是误服<tspan x="1798" dy="14.2">或故意服毒，应立即通知值班经理或夜值经</tspan><tspan x="1798" dy="14.2">理，在值班经理的指挥下需采取以下措施：</tspan></text><use href="#d" x="1789" y="383.4"/>
<text class="t" x="2056" y="169.7">1.拨打急救中心电话"120"呼救，如医务人员<tspan x="2056" dy="14.2">没有及时赶来，中毒者有生命危险，要将中毒</tspan><tspan x="2056" dy="14.2">者送附近医院抢救，并通知中毒者的单位或亲</tspan><tspan x="2056" dy="14.2">友。</tspan></text><use href="#d" x="2047" y="187"/>
<text class="t" x="2056" y="261.5">2.保护中毒者所在现场，不要让任何人触摸有<tspan x="2056" dy="14.2">毒或可疑有毒的物品（如：药物、容器、饮品</tspan><tspan x="2056" dy="14.2">及食物、呕吐物等）。</tspan></text><use href="#d" x="2047" y="271.5"/>
<text class="t" x="2056" y="338.5">3.安排好车位以便警车和救护车到达及离开时<tspan x="2056" dy="14.2">用。</tspan></text><use href="#d" x="2047" y="341"/>
<text class="t" x="2056" y="402">4.将中毒者的私人物品登记并交与警方。</text><use href="#d" x="2047" y="398"/>
<text class="t" x="2056" y="451">5.劝阻闲杂人员围观。</text><use href="#d" x="2047" y="447"/>
<text class="t" x="2056" y="500">6.将有关资料（包括警车、救护车到达及离开<tspan x="2056" dy="14.2">之时间、公安机关负责人姓名等资料）登记备</tspan><tspan x="2056" dy="14.2">案。</tspan></text><use href="#d" x="2047" y="510"/>
<text class="t" x="2056" y="577.7">7.发现投毒者或可疑人员，立即滞留，交公安<tspan x="2056" dy="14.2">机关处理。</tspan></text><use href="#d" x="2047" y="580.4"/>
</g>

<g id="p3">
<text class="t" x="1798" y="640.7">部门，并按规定通报、沟通和协商。</text><use href="#d" x="1789" y="636.7"/>
<text class="t" x="1798" y="689.6">（二）先期处置</text><use href="#d" x="1789" y="685.6"/>
<text class="t" x="1798" y="739">（1）冰冻雪灾发生后，相关科室要立即做出<tspan x="1798" dy="14.2">响应，根据职责和规定的权限启动相关应急预</tspan><tspan x="1798" dy="14.2">案，采取措施控制事态发展，组织开展应急救</tspan><tspan x="1798" dy="14.2">援工作，并及时向乡防冰冻雪灾应急指挥部办</tspan><tspan x="1798" dy="14.2">公室报告。</tspan></text><use href="#d" x="1789" y="763.4"/>
<text class="t" x="1798" y="844">（2）乡防冰冻雪灾应急指挥部在向县政府报<tspan x="1798" dy="14.2">告突发雪灾信息的同时，启动相关应急预案，</tspan><tspan x="1798" dy="14.2">及时、有效地进行处置，控制事态。</tspan></text><use href="#d" x="1789" y="854"/>
<text class="t" x="1798" y="922">（三）应急响应</text><use href="#d" x="1789" y="918"/>
<text class="t" x="1798" y="971">一旦发现事态危害超出自身控制能力时，应立<tspan x="1798" dy="14.2">即向上级政府发出请求，由上级政府协调其他</tspan><tspan x="1798" dy="14.2">应急力量予以增援。</tspan></text><use href="#d" x="1789" y="981"/>
<text class="t" x="1798" y="1048.7">（四）指挥与协调</text><use href="#d" x="1789" y="1044.7"/>
<text class="t" x="1798" y="1926">根据冰冻雪灾处置救助需要，乡防冰冻雪灾应<tspan x="1798" dy="14.2">急指挥部职责是迅速落实上级关于冰冻雪灾处</tspan><tspan x="1798" dy="14.2">置救助的各项指示，现场统一组织指挥冰冻雪</tspan><tspan x="1798" dy="14.2">灾的处置和救助。各工作组组成和主要职责：</tspan></text><use href="#d" x="1789" y="1942.6"/>
<text class="t" x="2056" y="1097.6">综合调度组：全面掌握并及时报告灾情信息、<tspan x="2056" dy="14.2">灾区天气状况和救助情况；协调组织各科室落</tspan><tspan x="2056" dy="14.2">实救灾力量调动、物资调配、通信联络等具体</tspan><tspan x="2056" dy="14.2">处置措施。</tspan></text><use href="#d" x="2047" y="1115"/>
<text class="t" x="2056" y="1188.8">后勤保障组：做好冰冻雪灾处置救助中食品、<tspan x="2056" dy="14.2">饮水、燃油、电力、被褥等物资供应工作，协</tspan><tspan x="2056" dy="14.2">调交通、运输部门快速运输救灾人员、救灾设</tspan><tspan x="2056" dy="14.2">备及救援物资、药品等。</tspan></text><use href="#d" x="2047" y="1206"/>
<text class="t" x="2056" y="1280.6">医疗救护组：协调有关部门和单位做好冰冻雪<tspan x="2056" dy="14.2">灾的处置中的医疗救护以及灾后卫生防疫等工</tspan><tspan x="2056" dy="14.2">作。</tspan></text><use href="#d" x="2047" y="1290.7"/>
<text class="t" x="2056" y="1358">宣传报道组：按照国家对冰冻雪灾处置的有关<tspan x="2056" dy="14.2">规定，根据冰冻雪灾处置和救助工作需要，适</tspan><tspan x="2056" dy="14.2">时发布灾情信息，组织宣传报道工作。</tspan></text><use href="#d" x="2047" y="1368.4"/>
<text class="t" x="2056" y="1436">专家咨询组：对冰冻雪灾情况进行科学评估，<tspan x="2056" dy="14.2">提出处置救助方案；根据乡冰冻雪灾应急指挥</tspan><tspan x="2056" dy="14.2">部办公室授权，开展灾情调查、灾情损失评估</tspan><tspan x="2056" dy="14.2">，做好处置绩效评价。</tspan></text><use href="#d" x="2047" y="1453"/>
<text class="t" x="2056" y="1527">现场督导组：深入灾区一线，对各行政村、各<tspan x="2056" dy="14.2">单位和人员在冰冻雪灾处置和救助中的职责履</tspan><tspan x="2056" dy="14.2">行情况实施跟踪监督检查，及时将有关情况报</tspan><tspan x="2056" dy="14.2">告前线指挥部和乡冰冻雪灾应急指挥部。</tspan></text><use href="#d" x="2047" y="1544.6"/>
<text class="t" x="2056" y="1619">恢复重建</text><use href="#d" x="2047" y="1615"/>
<text class="t" x="2056" y="1668">（一）善后处置</text><use href="#d" x="2047" y="1664"/>
<text class="t" x="2056" y="1716.8">（1）乡防冰冻雪灾应急指挥部会同事发地村<tspan x="2056" dy="14.2">党支部、村委会，积极稳妥、深入细致地做好</tspan><tspan x="2056" dy="14.2">善后处置工作。</tspan></text><use href="#d" x="2047" y="1727"/>
<text class="t" x="2056" y="1794.5">（2）对冰冻雪灾中的伤亡人员、应急处置工<tspan x="2056" dy="14.2">作人员，以及紧急调集、征用有关单位及个人</tspan><tspan x="2056" dy="14.2">的物资，要按照规定给予抚恤、补助或补偿，</tspan><tspan x="2056" dy="14.2">并提供心理及司法援助。</tspan></text><use href="#d" x="2047" y="1811"/>
<text class="t" x="2056" y="1885.6">（二）社会救助</text><use href="#d" x="2047" y="1881.6"/>
<text class="t" x="2056" y="1935">（1）民政班会同有关科室和单位要迅速调拨<tspan x="2056" dy="14.2">救灾物资，保证灾区群众的基本生活。</tspan></text><use href="#d" x="2047" y="1938"/>
<text class="t" x="2056" y="1998">（2）民政办要建立健全冰冻雪灾社会救济救<tspan x="2056" dy="14.2">助制度，积极提倡和鼓励企事业单位、社会团</tspan><tspan x="2056" dy="14.2">体及个人参与社会救助。</tspan></text><use href="#d" x="2047" y="2008"/>
<text class="t" x="2056" y="2075">（三）调查与评估</text><use href="#d" x="2047" y="2071"/>
<text class="t" x="2056" y="2124">乡防冰冻雪灾应急指挥部办公室在宣布应急结<tspan x="2056" dy="14.2">束后，组织有关科室及人员成立冰冻雪灾核查</tspan><tspan x="2056" dy="14.2">小组，对事件危害和应急处置工作进行全面客</tspan><tspan x="2056" dy="14.2">观的评估，并在10日内将评估报告报送乡防</tspan><tspan x="2056" dy="14.2">冰冻雪灾应急指挥部，由乡冰冻雪灾应急指挥</tspan><tspan x="2056" dy="14.2">部负责向上级政府及相关部门报告相关情况。</tspan></text><use href="#d" x="2047" y="2155"/>
<text class="t" x="2056" y="2244">（四）恢复重建</text><use href="#d" x="2047" y="2240"/>
<text class="t" x="2056" y="2293.8">灾后恢复重建工作，由乡党委、政府统一领导<tspan x="2056" dy="14.2">，统筹安排，村党支部、村委会负责具体实施</tspan><tspan x="2056" dy="14.2">。需要上级政府给予援助的，由乡政府向上级</tspan><tspan x="2056" dy="14.2">有关部门提出书面申请，经批复后再行实施。</tspan></text><use href="#d" x="2047" y="2310.6"/>
<text class="t" x="2056" y="2480">四、责任与奖惩</text><use href="#d" x="2047" y="2476"/>
<text class="t" x="2170" y="2385.6">冰冻雪灾应急处置工作按照"党政同责、一岗<tspan x="2170" dy="14.2">双责"的原则实施。乡政府应对突发雪灾，运</tspan><tspan x="2170" dy="14.2">用紧急权力，采取应急措施依法实施监督。</tspan></text><use href="#d" x="2160" y="2395.6"/>
<text class="t" x="2170" y="2462.6">乡防冰冻雪灾应急指挥部负责对在应急管理工<tspan x="2170" dy="14.2">作中做出突出贡献的先进单位和个人及时给予</tspan><tspan x="2170" dy="14.2">表彰和奖励。</tspan></text><use href="#d" x="2160" y="2472.7"/>
<text class="t" x="2170" y="2540">乡党委、政府对不报、迟报、谎报、瞒报和漏<tspan x="2170" dy="14.2">报重要情况或者有其他失职、渎职行为的，依</tspan><tspan x="2170" dy="14.2">法依规对直接责任人和其他责任人给予行政处</tspan><tspan x="2170" dy="14.2">分；构成犯罪的，移交司法机关追究刑事责任</tspan></text><use href="#d" x="2160" y="2557"/>
<text class="t" x="2056" y="2775">五、附则</text><use href="#d" x="2047" y="2771"/>
<text class="t" x="2136" y="2631.5">预案管理</text><use href="#d" x="2126.6" y="2627.5"/>
<text class="t" x="2136" y="2681">本预案由湫山乡人民政府制定，乡应急管理办<tspan x="2136" dy="14.2">公室负责解释与实施。乡全体机关干部和各村</tspan><tspan x="2136" dy="14.2">党支部、村委会按照本预案的规定履行职责，</tspan><tspan x="2136" dy="14.2">各单位、各村具体制定相应的预案。</tspan></text><use href="#d" x="2126.6" y="2697.8"/>
<text class="t" x="2136" y="2772">预案实施</text><use href="#d" x="2126.6" y="2768"/>
<text class="t" x="2136" y="2821">本预案经乡党政班子扩大会议审议通过实施。</text><use href="#d" x="2126.6" y="2817"/>
<text class="t" x="2136" y="2870">预案实施时间</text><use href="#d" x="2126.6" y="2866"/>
<text class="t" x="2136" y="2919">本预案自xx年1月20日起正式实施</text><use href="#d" x="2126.6" y="2915"/>
</g>

<g id="p5">
<text class="t" x="1798" y="2968">高校消防疏散应急预案</text><use href="#d" x="1789" y="2964"/>
<text class="t" x="1798" y="3017">有的时候有突发事件，这个时候，我们就需要<tspan x="1798" dy="14.2">应急预案，大家一起看看下面的高校消防疏散</tspan><tspan x="1798" dy="14.2">应急预案吧！</tspan></text><use href="#d" x="1789" y="3027.5"/>
<text class="t" x="1798" y="3095">高校消防疏散应急预案</text><use href="#d" x="1789" y="3091"/>
<text class="t" x="1798" y="3179">一、指导思想</text><use href="#d" x="1789" y="3175"/>
<text class="t" x="1901" y="3144">为了更好地贯彻落实和大力宣传消防法规、防<tspan x="1901" dy="14.2">火灭火及逃生自救常识，积极提高全体寝室同</tspan><tspan x="1901" dy="14.2">学的消防安全意识，培养寝室同学在遇到火灾</tspan><tspan x="1901" dy="14.2">等突发事件时的'应变能力，更好的保护学校</tspan><tspan x="1901" dy="14.2">财产和广大学生的人身安全，依据学校消防安</tspan><tspan x="1901" dy="14.2">全管理规定，制定本预案，具体内容如下：</tspan></text><use href="#d" x="1892.6" y="3175"/>
<text class="t" x="1798" y="3358.5">二、组织领导机构</text><use href="#d" x="1789" y="3354.5"/>
<text class="t" x="1924" y="3264">为确保此次活动紧张有序地开展，特成立本次<tspan x="1924" dy="14.2">消防安全演习的领导机构，负责方案的制定，</tspan><tspan x="1924" dy="14.2">各项工作的组织与协调。</tspan></text><use href="#d" x="1914" y="3274"/>
<text class="t" x="1924" y="3365">1、消防安全演习领导小组</text><use href="#d" x="1914" y="3361"/>
<text class="t" x="2089" y="3340.4">总指挥长：</text><use href="#d" x="2080" y="3336.4"/>
<text class="t" x="2180" y="3340.4">xxxx</text><use href="#d" x="2171" y="3336.4"/>
<text class="t" x="2089" y="3390">现场指挥：</text><use href="#d" x="2080" y="3386"/>
<text class="t" x="2180" y="3390">十六号楼社区管理委员会全体委员</text><use href="#d" x="2171" y="3386"/>
<text class="t" x="1924" y="3439">2、安全疏散组</text><use href="#d" x="1914" y="3435"/>
<text class="t" x="2033" y="3439">十六号楼各寝室寝室长</text><use href="#d" x="2023" y="3435"/>
<text class="t" x="1798" y="3488">三、演习时间：</text><use href="#d" x="1789" y="3484"/>
<text class="t" x="1912" y="3488">20xx年x月x日</text><use href="#d" x="1903.5" y="3484"/>
<text class="t" x="1798" y="3537">四、演习对象：</text><use href="#d" x="1789" y="3533"/>
<text class="t" x="1912" y="3537">全体十六号住校生</text><use href="#d" x="1903.5" y="3533"/>
<text class="t" x="1798" y="3727.7">五、消防演习准备工作</text><use href="#d" x="1789" y="3723.7"/>
<text class="t" x="1945.6" y="3632">1、根据学校批准后的《消防安全演习方案》<tspan x="1945.6" dy="14.2">的内容准备消防演习所需的器材：</tspan></text><use href="#d" x="1936" y="3634.6"/>
<text class="t" x="2209" y="3585.7">（1）录制警报声（孙震负责）；</text><use href="#d" x="2193" y="3581.7"/>
<text class="t" x="2209" y="3634.6">（2）准备灭火器；</text><use href="#d" x="2193" y="3630.6"/>
<text class="t" x="2209" y="3684">（3）内存有易燃物质的铁桶2只，模拟着火<tspan x="2203" dy="14.2">源（苏珊安排）；</tspan></text><use href="#d" x="2193" y="3687"/>
<text class="t" x="1945.6" y="3748">2、学生事先熟悉宿舍内的安全通道、安全出<tspan x="1945.6" dy="14.2">口及逃生方法；</tspan></text><use href="#d" x="1936" y="3750.5"/>
<text class="t" x="1945.6" y="3810">3、在演习前各寝室长举办一次防火安全知识<tspan x="1945.6" dy="14.2">宣传和安全逃生教育。</tspan></text><use href="#d" x="1936" y="3813.5"/>
<text class="t" x="1798" y="4071.4">六、消防安全演习实施过程</text><use href="#d" x="1789" y="4067.4"/>
<text class="t" x="1967" y="4071.4">(一)消防逃生演习</text><use href="#d" x="1958" y="4067.4"/>
<text class="t" x="2089" y="3874">1、十六号楼音响播放警报，发出逃生指令，<tspan x="2089" dy="14.2">通知并组织全体住校学生进行疏散。</tspan></text><use href="#d" x="2080" y="3876"/>
<text class="t" x="2089" y="3936.7">2、听到警报后，各寝室长立即通知本寝室学<tspan x="2089" dy="14.2">生发生火警，并有组织地以最快速度有序地向</tspan><tspan x="2089" dy="14.2">楼下疏散。广播同时要播放一些缓和心理的提</tspan><tspan x="2089" dy="14.2">示语，如"听从现场老师指挥，不要慌张，按</tspan><tspan x="2089" dy="14.2">疏散路线有3. 靠近火源的学生寝室长负责提</tspan><tspan x="2089" dy="14.2">取灭火器灭火。</tspan></text><use href="#d" x="2080" y="3968"/>
<text class="t" x="2089" y="4057">4、楼长和寝室长的组织下沿疏散逃生路线，<tspan x="2089" dy="14.2">撤离现场；</tspan></text><use href="#d" x="2080" y="4060"/>
<text class="t" x="2089" y="4120">5、各寝室撤离现场后，有序到达德馨广场集<tspan x="2089" dy="14.2">合，按照各班列队；</tspan></text><use href="#d" x="2080" y="4123"/>
<text class="t" x="2089" y="4183">6、各寝室长按寝室人员清点人数，人数不齐<tspan x="2089" dy="14.2">的寝室应立即向现场指挥报告。</tspan></text><use href="#d" x="2080" y="4186"/>
<text class="t" x="2089" y="4246">7、当学生全部撤离完之后，搜救组分组对每<tspan x="2089" dy="14.2">个寝室仔细地搜查一遍，确认没有人员后向演</tspan><tspan x="2089" dy="14.2">习总指挥长报告。</tspan></text><use href="#d" x="2080" y="4256"/>
<text class="t" x="1798" y="4460.8">七、相关要求</text><use href="#d" x="1789" y="4456.8"/>
<text class="t" x="1901" y="4324">(1)每个寝室在寝室外过道按2路纵队沿过道边<tspan x="1901" dy="14.2">有秩序的进行撤离现场，不抢道、不惊慌，安</tspan><tspan x="1901" dy="14.2">静、快速，绝对不要打闹、推搡（除楼梯外其</tspan><tspan x="1901" dy="14.2">他地点小跑步撤离，不要急跑、过快，以防跌</tspan><tspan x="1901" dy="14.2">倒）。</tspan></text><use href="#d" x="1892.6" y="4348"/>
<text class="t" x="1901" y="4430">(2)值班老师和所有社区管理会委员要做好安<tspan x="1901" dy="14.2">全的宣传教育和演习中的管理工作，疏散时要</tspan><tspan x="1901" dy="14.2">有秩序，保证学生的安全，尤其在楼道上。</tspan></text><use href="#d" x="1892.6" y="4440"/>
<text class="t" x="1901" y="4507">(3)女生楼六层，每一个楼梯口各设引导委员1<tspan x="1901" dy="14.2">名，共16名。</tspan></text><use href="#d" x="1892.6" y="4510"/>
<text class="t" x="1901" y="4570">(4)疏散线路及顺序</text><use href="#d" x="1892.6" y="4566"/>
</g>

<g id="p7">
<text class="t" x="1798" y="4669">一、 组织领导</text><use href="#d" x="1789" y="4665"/>
<text class="t" x="1903.5" y="4619">组 长：xx</text><use href="#d" x="1892.6" y="4615"/>
<text class="t" x="1903.5" y="4669">副组长：xx</text><use href="#d" x="1892.6" y="4665"/>
<text class="t" x="1903.5" y="4717.5">成 员：各股室中队长</text><use href="#d" x="1892.6" y="4713.5"/>
<text class="t" x="1798" y="5371">二、 应急处置</text><use href="#d" x="1789" y="5367"/>
<text class="t" x="1903.5" y="5039.7">1、春运期间，发生严重交通堵塞、人员伤亡<tspan x="1903.5" dy="14.2">、财产损失及道路上发生易燃易爆危化品等突</tspan><tspan x="1903.5" dy="14.2">发事件的处置，交通应急预案4篇。</tspan></text><use href="#d" x="1892.6" y="5050"/>
<text class="t" x="2161.5" y="4766">（1） 总指挥：大队当日值班领导</text><use href="#d" x="2150.6" y="4762"/>
<text class="t" x="2161.5" y="4815">（2） 组织协调：秩序股</text><use href="#d" x="2150.6" y="4811"/>
<text class="t" x="2161.5" y="4864">（3） 警力部署</text><use href="#d" x="2150.6" y="4860"/>
<text class="t" x="2161.5" y="4913">指 挥：xx副大队长</text><use href="#d" x="2150.6" y="4909"/>
<text class="t" x="2161.5" y="4962.6">县西片（包括xx国道）：以巡警一队、测速<tspan x="2161.5" dy="14.2">一队、xx中队、xx中队、xx中队为主。</tspan></text><use href="#d" x="2150.6" y="4966"/>
<text class="t" x="2161.5" y="5025.6">指 挥：杜英杰纪检组长</text><use href="#d" x="2150.6" y="5021.6"/>
<text class="t" x="2161.5" y="5075">县东片（包括xx一级路）：以巡警二队、xx<tspan x="2161.5" dy="14.2">中队、测速二队为主。</tspan></text><use href="#d" x="2150.6" y="5078"/>
<text class="t" x="2161.5" y="5137.5">指 挥：xx副大队长（机动警力）</text><use href="#d" x="2150.6" y="5133.5"/>
<text class="t" x="2161.5" y="5187">城 区：以城区中队及队机关业务科室（包括<tspan x="2161.5" dy="14.2">办公室、业务股、宣教股）为主。</tspan></text><use href="#d" x="2150.6" y="5190"/>
<text class="t" x="2161.5" y="5342.6">（4） 现场处置：</text><use href="#d" x="2150.6" y="5338.6"/>
<text class="t" x="2286.6" y="5250">a、组织民警上路；</text><use href="#d" x="2276.5" y="5246"/>
<text class="t" x="2286.6" y="5299">b、疏散群众，现场疏堵或警戒；</text><use href="#d" x="2276.5" y="5295"/>
<text class="t" x="2286.6" y="5348">c、事态严重的，立即上报上级领导；及时向<tspan x="2286.6" dy="14.2">有关部门汇报；</tspan></text><use href="#d" x="2276.5" y="5351"/>
<text class="t" x="2286.6" y="5411">d、控制嫌疑人及时移交派出所、刑侦或治安<tspan x="2286.6" dy="14.2">部门。发生放射性或危化品泄漏的，应配制必</tspan><tspan x="2286.6" dy="14.2">要防护用品，并及时报告消防、安检等专业管</tspan><tspan x="2286.6" dy="14.2">理部门。</tspan></text><use href="#d" x="2276.5" y="5428"/>
<text class="t" x="1903.5" y="5688.6">1、重特大或群死群伤恶_通事故的处置。</text><use href="#d" x="1892.6" y="5684.6"/>
<text class="t" x="2147" y="5502.7">（1）总指挥：xx</text><use href="#d" x="2130" y="5498.7"/>
<text class="t" x="2147" y="5551.8">（2）组织协调：事故股</text><use href="#d" x="2130" y="5547.8"/>
<text class="t" x="2147" y="5671">（3）警力部署：</text><use href="#d" x="2130" y="5667"/>
<text class="t" x="2261" y="5601">a、县西片（包括xx国道）：以巡警一队、xx<tspan x="2261" dy="14.2">中队、xx中队、xx中队为主；</tspan></text><use href="#d" x="2251" y="5604"/>
<text class="t" x="2261" y="5664">b、县东片（包括xx一级路）：以xx中队、巡<tspan x="2261" dy="14.2">警二队为主。</tspan></text><use href="#d" x="2251" y="5666.6"/>
<text class="t" x="2261" y="5727">c、 城区：以城区中队及队机关业务科室（包<tspan x="2261" dy="14.2">括办公室、业务股、宣教股）为主。</tspan></text><use href="#d" x="2251" y="5729"/>
<text class="t" x="2147" y="5874.6">（4） 现场处置：</text><use href="#d" x="2130" y="5870.6"/>
<text class="t" x="2263" y="5790.6">a、 抢救伤员，保护财产；</text><use href="#d" x="2254" y="5786.6"/>
<text class="t" x="2263" y="5839">b、保护现场，疏导交通，控制肇事人；</text><use href="#d" x="2254" y="5835"/>
<text class="t" x="2263" y="5889">c、 根据现场实际情况，采取交通管制，必要<tspan x="2263" dy="14.2">时采取临时封路措施。</tspan></text><use href="#d" x="2254" y="5891"/>
<text class="t" x="2263" y="5951.7">d、 情况紧急、事态严重的要及时向上级有关<tspan x="2263" dy="14.2">领导报告，并立即通告相关部门。</tspan></text><use href="#d" x="2254" y="5954.6"/>
<text class="t" x="1798" y="6134.6">三、 要求：</text><use href="#d" x="1789" y="6130.6"/>
<text class="t" x="1894" y="6134.6">在春运期间做到：</text><use href="#d" x="1884" y="6130.6"/>
<text class="t" x="2017.6" y="6014.6">1、各股室中队及全体民警要高度警惕，随时<tspan x="2017.6" dy="14.2">准备投入紧急状态，要提前配备警用设备或防</tspan><tspan x="2017.6" dy="14.2">护设备，接到命令随时出警。</tspan></text><use href="#d" x="2007.5" y="6025"/>
<text class="t" x="2017.6" y="6092">2、全队要保持政令畅通。每位民警特别是股<tspan x="2017.6" dy="14.2">级以上负责人要保持24小时通讯畅通；值班</tspan><tspan x="2017.6" dy="14.2">领导、值班民警要坚守工作岗位，做好值班记</tspan><tspan x="2017.6" dy="14.2">录，一有警情要立即通知相关领导或相关股室</tspan><tspan x="2017.6" dy="14.2">中队负责人，做到严阵以待，警令畅通，接到</tspan><tspan x="2017.6" dy="14.2">命令，迅速出警。</tspan></text><use href="#d" x="2007.5" y="6124.4"/>
<text class="t" x="2017.6" y="6212">3、现场指挥为应急处置的最高责任人，除做<tspan x="2017.6" dy="14.2">好应急处置现场的指挥外，有权随时调动全队</tspan><tspan x="2017.6" dy="14.2">各个警力。各股室中队长及每位民警都要随时</tspan><tspan x="2017.6" dy="14.2">听从指挥，服从调动，确保各项应急措施落到</tspan><tspan x="2017.6" dy="14.2">实处。</tspan></text><use href="#d" x="2007.5" y="6236"/>
</g>
</g>
</svg>
